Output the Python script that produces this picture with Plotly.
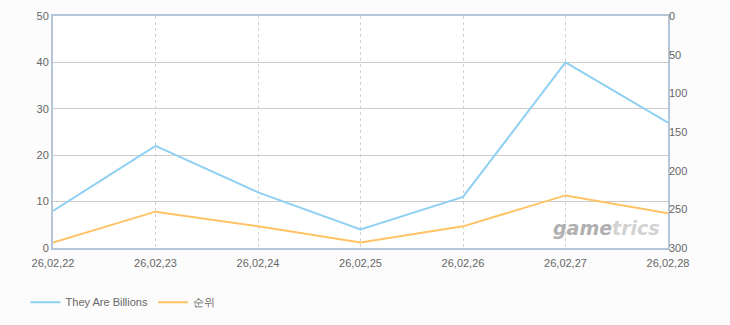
import plotly.graph_objects as go

dates = ["26,02,22", "26,02,23", "26,02,24", "26,02,25", "26,02,26", "26,02,27", "26,02,28"]
players = [8, 22, 12, 4, 11, 40, 27]
rank = [293, 253, 272, 293, 272, 232, 255]
left_ticks = [0, 10, 20, 30, 40, 50]
right_ticks = [0, 50, 100, 150, 200, 250, 300]

fig = go.Figure()
fig.add_trace(go.Scatter(x=dates, y=players, mode="lines", name="They Are Billions",
                         line=dict(color="#90d0f2", width=2)))
fig.add_trace(go.Scatter(x=dates, y=rank, mode="lines", name="순위", yaxis="y2",
                         line=dict(color="#ffc264", width=2)))

font = dict(family="Liberation Sans", size=11, color="#666666")
fig.update_layout(
    width=730, height=325,
    margin=dict(l=53, r=62, t=16, b=77, autoexpand=False),
    paper_bgcolor="#fcfcfc", plot_bgcolor="#ffffff",
    font=font,
    showlegend=True,
    legend=dict(orientation="h", x=0.035, y=0.115, xref="container", yref="container",
                xanchor="left", yanchor="top",
                font=dict(family="Liberation Sans", size=11, color="#666666"),
                bgcolor="rgba(0,0,0,0)"),
    xaxis=dict(type="category", range=[0, 6], showgrid=True, gridcolor="#d0d0d0",
               griddash="3px,3px", gridwidth=1, showline=True, linecolor="#b4c6d8",
               linewidth=2, mirror=True, ticks="outside", ticklen=4,
               tickcolor="rgba(0,0,0,0)", tickfont=font, zeroline=False),
    yaxis=dict(range=[0, 50], tickvals=left_ticks, showgrid=True, gridcolor="#cccccc",
               gridwidth=1, showline=True, linecolor="#b4c6d8", linewidth=2,
               mirror=True, ticks="", tickfont=font, zeroline=False),
    yaxis2=dict(range=[300, 0], tickvals=right_ticks, overlaying="y", side="right",
                showgrid=False, showline=False, ticks="", tickfont=font, zeroline=False),
)
fig.add_annotation(text="<b><i><span style='color:#b0b0b0'>game</span><span style='color:#d2d2d2'>trics</span></i></b>",
                   xref="paper", yref="paper",
                   x=0.99, y=0.03, xanchor="right", yanchor="bottom", showarrow=False,
                   font=dict(family="DejaVu Sans", size=19, color="#c4c4c4"))
fig.write_html("out.html")
